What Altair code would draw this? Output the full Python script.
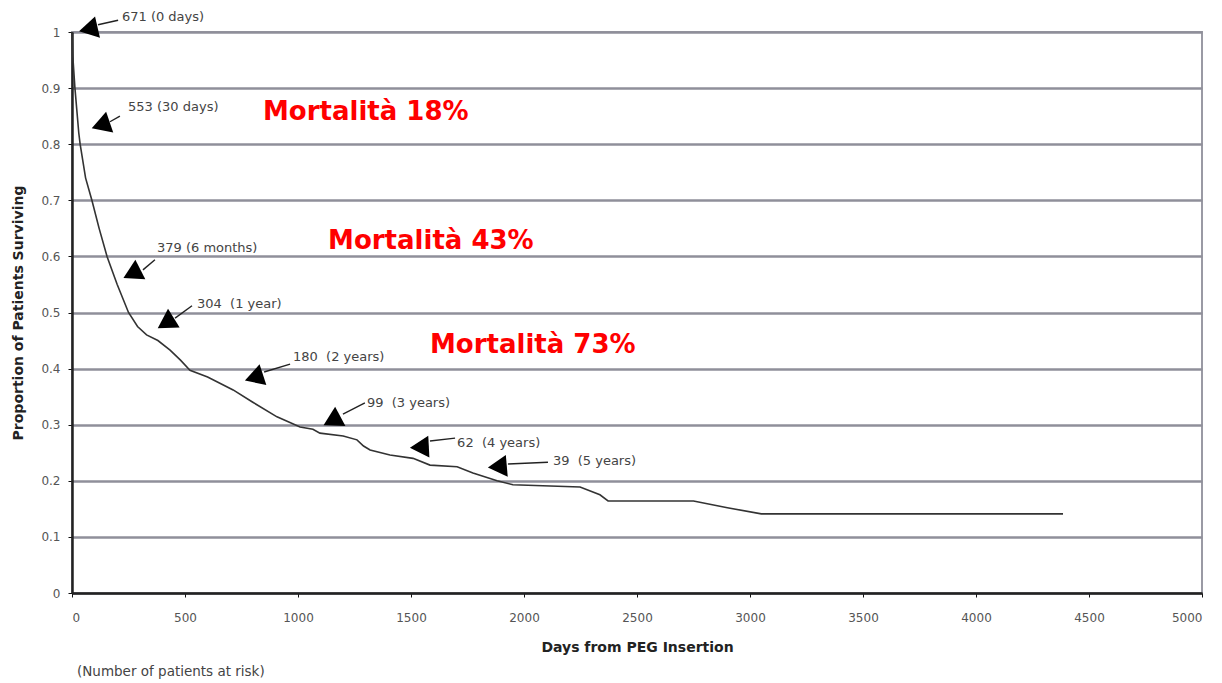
import altair as alt
import pandas as pd

# Kaplan-Meier survival curve
days = [0, 3, 13, 30, 36, 60, 88, 120, 155, 200, 250, 290, 330, 380, 434, 480, 522,
        600, 713, 800, 907, 1009, 1066, 1097, 1200, 1261, 1290, 1319, 1407, 1509,
        1584, 1704, 1774, 1881, 1951, 2248, 2336, 2372, 2750, 2900, 3050, 4385]
surv = [1.0, 0.96, 0.90, 0.82, 0.80, 0.74, 0.70, 0.65, 0.60, 0.55, 0.50, 0.475, 0.46,
        0.45, 0.433, 0.415, 0.397, 0.385, 0.362, 0.34, 0.314, 0.296, 0.292, 0.285,
        0.28, 0.273, 0.262, 0.255, 0.246, 0.24, 0.228, 0.225, 0.214, 0.20, 0.193,
        0.189, 0.175, 0.164, 0.164, 0.152, 0.141, 0.141]

# Number-at-risk annotations
ann_labels = ["671 (0 days)", "553 (30 days)", "379 (6 months)", "304\u00a0 (1 year)",
              "180\u00a0 (2 years)", "99\u00a0 (3 years)", "62\u00a0 (4 years)", "39\u00a0 (5 years)"]
ann_text_day = [221, 248, 376, 553, 978, 1305, 1704, 2128]
ann_text_y = [1.026, 0.866, 0.615, 0.515, 0.421, 0.339, 0.267, 0.235]
arrow_day = [72, 127, 265, 415, 805, 1150, 1537, 1882]
arrow_y = [1.005, 0.834, 0.569, 0.481, 0.384, 0.307, 0.260, 0.225]
arrow_angle = [257, 251, 243, 238, 252, 242, 267, 265]
lead_day0 = [115, 168, 314, 456, 850, 1199, 1584, 1929]
lead_y0 = [1.013, 0.840, 0.576, 0.490, 0.394, 0.319, 0.271, 0.230]
lead_day1 = [204, 212, 367, 531, 965, 1296, 1695, 2106]
lead_y1 = [1.021, 0.850, 0.594, 0.512, 0.408, 0.339, 0.276, 0.233]

mort_labels = ["Mortalità 18%", "Mortalità 43%", "Mortalità 73%"]
mort_day = [845, 1133, 1584]
mort_y = [0.857, 0.627, 0.442]

foot_label = ["(Number of patients at risk)"]
foot_day = [22]
foot_y = [-0.141]

x_ticks = list(range(0, 5001, 500))
y_ticks = [round(i * 0.1, 1) for i in range(11)]

curve = pd.DataFrame({"day": days, "surv": surv})
ann = pd.DataFrame({"label": ann_labels, "tday": ann_text_day, "ty": ann_text_y,
                    "aday": arrow_day, "ay": arrow_y, "angle": arrow_angle,
                    "d0": lead_day0, "y0": lead_y0, "d1": lead_day1, "y1": lead_y1})
mort = pd.DataFrame({"label": mort_labels, "day": mort_day, "y": mort_y})
foot = pd.DataFrame({"label": foot_label, "day": foot_day, "y": foot_y})

xs = alt.Scale(domain=[0, 5000], nice=False)
ys = alt.Scale(domain=[0, 1], nice=False)

F = "DejaVu Sans"

x_axis = alt.Axis(values=x_ticks, format="d", title="Days from PEG Insertion", grid=False,
                  tickSize=4, tickColor="#111", domainColor="#222", domainWidth=2.5,
                  labelFont=F, labelFontSize=12, labelColor="#555",
                  labelPadding=15, titleFont=F, titleFontSize=14,
                  titleFontWeight="bold", titleColor="#222", titlePadding=17)
y_axis = alt.Axis(values=y_ticks, format=".1~f", title="Proportion of Patients Surviving",
                  grid=True, gridColor="#8f8f9a", gridWidth=2.5,
                  tickSize=4, tickColor="#111", domainColor="#222", domainWidth=2.5,
                  labelFont=F, labelFontSize=12, labelColor="#555",
                  labelPadding=8, titleFont=F, titleFontSize=14,
                  titleFontWeight="bold", titleColor="#222", titlePadding=15)

line = alt.Chart(curve).mark_line(color="#333", strokeWidth=1.6).encode(
    x=alt.X("day:Q", scale=xs, axis=x_axis),
    y=alt.Y("surv:Q", scale=ys, axis=y_axis),
)

leaders = alt.Chart(ann).mark_rule(color="#222", strokeWidth=1.4).encode(
    x="d0:Q", y="y0:Q", x2="d1:Q", y2="y1:Q")

heads = alt.Chart(ann).mark_point(shape="triangle-up", filled=True, color="black",
                                  size=480, opacity=1).encode(
    x="aday:Q", y="ay:Q", angle=alt.Angle("angle:Q", scale=None))

labels = alt.Chart(ann).mark_text(align="left", baseline="middle", font=F,
                                  fontSize=13, color="#444").encode(
    x="tday:Q", y="ty:Q", text="label:N")

mort_text = alt.Chart(mort).mark_text(align="left", baseline="middle", font=F,
                                      fontSize=26, fontWeight="bold", color="#ff0000").encode(
    x="day:Q", y="y:Q", text="label:N")

foot_text = alt.Chart(foot).mark_text(align="left", baseline="middle", font=F,
                                      fontSize=13.5, color="#444").encode(
    x="day:Q", y="y:Q", text="label:N")

chart = alt.layer(line, leaders, heads, labels, mort_text, foot_text).properties(
    width=1130, height=561,
    autosize=alt.AutoSizeParams(type="none"),
    padding={"left": 64, "top": 24, "right": 12, "bottom": 88},
).configure_view(stroke="#9a9aa4", strokeWidth=2)

chart.save("out.html", embed_options={"renderer": "svg", "actions": False})
